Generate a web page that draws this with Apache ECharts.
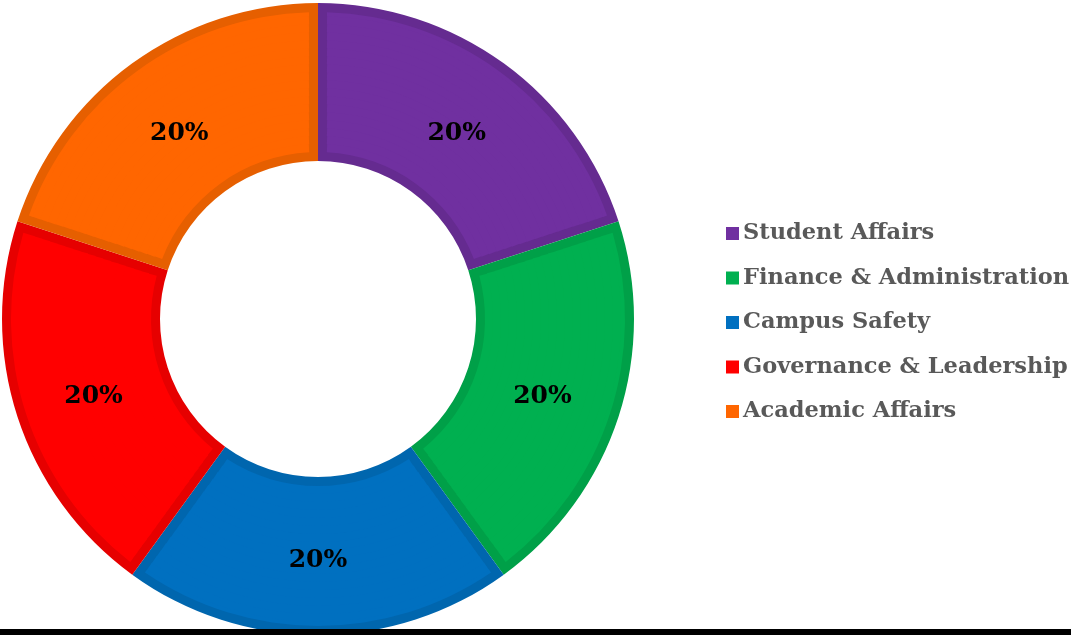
<!DOCTYPE html>
<html>
<head>
<meta charset="utf-8">
<script src="https://cdn.jsdelivr.net/npm/echarts@6/dist/echarts.min.js"></script>
<style>
  html, body { margin: 0; padding: 0; background: #fff; }
  #chart { width: 1071px; height: 635px; }
</style>
</head>
<body>
<div id="chart"></div>
<script>
// Share of focus areas
const categories = ['Student Affairs', 'Finance & Administration', 'Campus Safety', 'Governance & Leadership', 'Academic Affairs'];
const values = [20, 20, 20, 20, 20];
const fillColors = ['#7030A0', '#00B050', '#0070C0', '#FF0000', '#FF6600'];
const edgeColors = ['#652B90', '#00A048', '#0066AE', '#E60000', '#E65F00'];

const CENTER = [318, 319];
const R_IN = 158, R_OUT = 316;
const EDGE = 9;           // width of the darker rim inside each slice
const BAND = 8;           // thickness of each concentric fill band
const START = 90;

const total = values.reduce((a, b) => a + b, 0);

const series = [];

// darker rim: the full ring in the edge colours
series.push({
  type: 'pie', z: 1, silent: true, animation: false,
  center: CENTER, radius: [R_IN, R_OUT], startAngle: START, clockwise: true,
  label: { show: false }, labelLine: { show: false },
  data: categories.map((name, i) => ({ name, value: values[i], itemStyle: { color: edgeColors[i] } }))
});

// slice fill, inset by the rim width. Each thin band puts a transparent
// spacer across every slice boundary, sized so the rim keeps a constant width.
for (let r = R_IN + EDGE; r < R_OUT - EDGE; r += BAND) {
  const r1 = Math.min(r + BAND, R_OUT - EDGE);
  const mid = (r + r1) / 2;
  const gapDeg = (2 * EDGE / mid) * 180 / Math.PI;
  const n = values.length;
  const gapVal = gapDeg * total / (360 - n * gapDeg);
  const data = [];
  categories.forEach((name, i) => {
    data.push({ name: '__gap' + i, value: gapVal, itemStyle: { color: 'rgba(0,0,0,0)' } });
    // slice angle is its share of the circle minus one spacer
    const want = values[i] / total * 360 - gapDeg;
    data.push({ name, value: want / (360 - n * gapDeg) * total, itemStyle: { color: fillColors[i] } });
  });
  series.push({
    type: 'pie', z: 2, silent: true, animation: false,
    center: CENTER, radius: [r, Math.min(r1 + 0.8, R_OUT - EDGE)],
    startAngle: START + gapDeg / 2, clockwise: true,
    label: { show: false }, labelLine: { show: false },
    data
  });
}

// percentage labels on top
series.push({
  type: 'pie', z: 3, silent: true, animation: false,
  center: CENTER, radius: [R_IN - 4, R_OUT - 4], startAngle: START, clockwise: true,
  itemStyle: { color: 'rgba(0,0,0,0)' },
  label: {
    show: true, position: 'inside', formatter: '{d}%', offset: [0, 5],
    fontFamily: 'DejaVu Serif', fontWeight: 'bold', fontSize: 25, color: '#000'
  },
  labelLine: { show: false },
  data: categories.map((name, i) => ({ name, value: values[i] }))
});

const chart = echarts.init(document.getElementById('chart'), null, { renderer: 'canvas' });
chart.setOption({
  backgroundColor: '#fff',
  animation: false,
  legend: {
    orient: 'vertical', left: 721, top: 217,
    icon: 'rect', itemWidth: 13, itemHeight: 13, itemGap: 21.5,
    selectedMode: false,
    textStyle: { fontFamily: 'DejaVu Serif', fontWeight: 'bold', fontSize: 22.5, color: '#595959', padding: [0, 0, 0, -1] },
    data: categories.map((name, i) => ({ name, itemStyle: { color: fillColors[i] } }))
  },
  graphic: [{
    type: 'rect', left: 0, bottom: 0, z: 10,
    shape: { width: 1071, height: 6 }, style: { fill: '#000' }
  }],
  series
});
</script>
</body>
</html>
